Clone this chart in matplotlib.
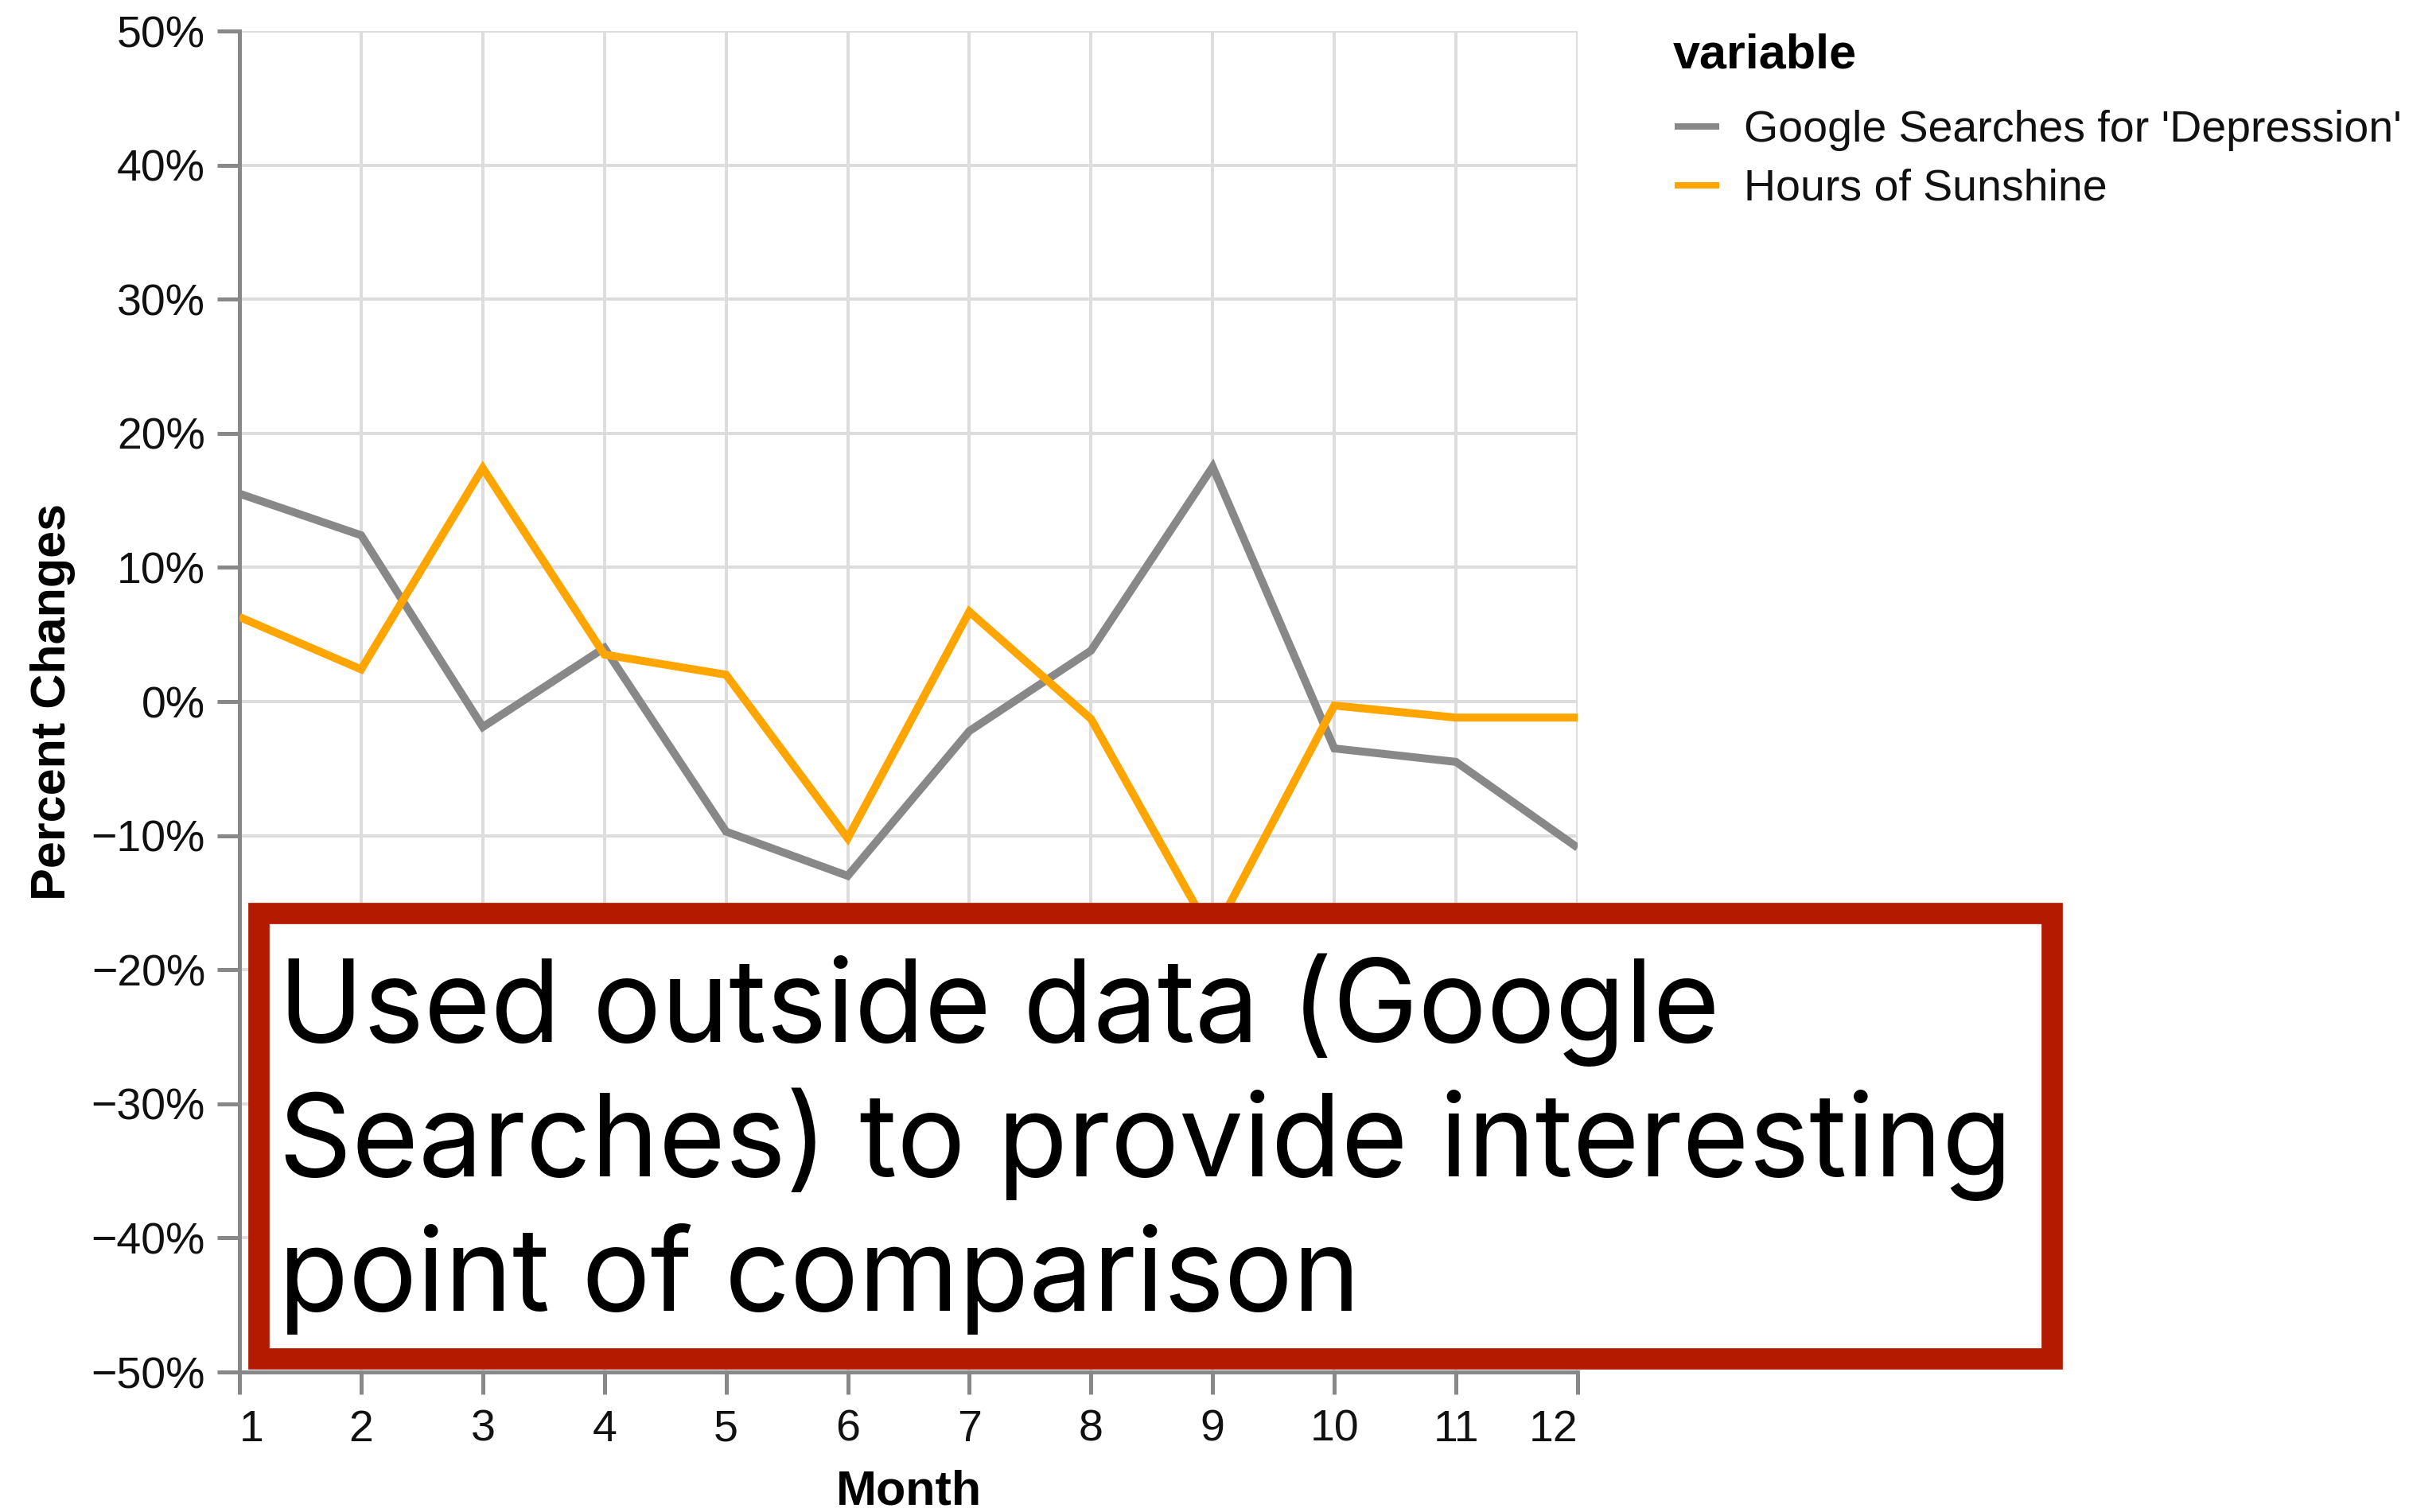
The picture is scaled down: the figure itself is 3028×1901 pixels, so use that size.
import matplotlib
matplotlib.use("Agg")
import matplotlib.pyplot as plt
from matplotlib.patches import Rectangle
from matplotlib.lines import Line2D

# ---- data ----
months = [1, 2, 3, 4, 5, 6, 7, 8, 9, 10, 11, 12]
google_searches = [15.5, 12.4, -1.9, 4.0, -9.7, -13.0, -2.2, 3.8, 17.5, -3.5, -4.5, -10.9]
hours_sunshine = [6.3, 2.4, 17.4, 3.5, 2.0, -10.2, 6.7, -1.3, -17.5, -0.3, -1.2, -1.2]
series_names = ["Google Searches for 'Depression'", "Hours of Sunshine"]
series_colors = ["#888888", "#FFA500"]
y_ticks = [-50, -40, -30, -20, -10, 0, 10, 20, 30, 40, 50]
y_tick_labels = ["\u221250%", "\u221240%", "\u221230%", "\u221220%", "\u221210%", "0%",
                 "10%", "20%", "30%", "40%", "50%"]
x_tick_labels = [str(m) for m in months]
annotation_lines = ["Used outside data (Google", "Searches) to provide interesting",
                    "point of comparison"]

W, H = 3028, 1901
DPI = 100
PX = 72.0 / DPI  # points per pixel

plt.rcParams['font.family'] = ['Liberation Sans', 'DejaVu Sans']

fig = plt.figure(figsize=(W / DPI, H / DPI), dpi=DPI)
fig.patch.set_facecolor("white")

ax_l, ax_r, ax_t, ax_b = 301, 1983, 39, 1725
ax = fig.add_axes([ax_l / W, 1 - ax_b / H, (ax_r - ax_l) / W, (ax_b - ax_t) / H])

for vals, col in zip([google_searches, hours_sunshine], series_colors):
    ax.plot(months, vals, color=col, lw=10 * PX, solid_joinstyle='miter',
            solid_capstyle='butt', zorder=3)

ax.set_xlim(1, 12)
ax.set_ylim(-50, 50)
ax.set_xticks(months)
ax.set_xticklabels(x_tick_labels)
ax.set_yticks(y_ticks)
ax.set_yticklabels(y_tick_labels)
ax.grid(True, color="#dddddd", lw=4 * PX, zorder=0)
ax.set_axisbelow(True)

for s in ["top", "right"]:
    ax.spines[s].set_visible(False)
for s in ["left", "bottom"]:
    ax.spines[s].set_color("#888888")
    ax.spines[s].set_linewidth(5 * PX)

ax.tick_params(axis='both', length=28 * PX, width=5 * PX, color="#888888",
               labelsize=40, labelcolor="#111111")
ax.tick_params(axis='y', pad=15 * PX)
ax.tick_params(axis='x', pad=19 * PX)

xl = ax.get_xticklabels()
xl[0].set_horizontalalignment('left')
xl[-1].set_horizontalalignment('right')

# axis titles
fig.text(82 / W, 1 - 882 / H, "Percent Changes", rotation=90, rotation_mode='anchor',
         ha='center', va='baseline', fontsize=44, fontweight='bold', color="#000000")
fig.text(1142 / W, 1 - 1891 / H, "Month", ha='center', va='baseline',
         fontsize=44, fontweight='bold', color="#000000")

# legend
fig.text(2103 / W, 1 - 86 / H, "variable", ha='left', va='baseline',
         fontsize=44, fontweight='bold', color="#000000")
row_baselines = [178, 252]
for name, col, bl in zip(series_names, series_colors, row_baselines):
    sy = 1 - (bl - 19) / H
    fig.add_artist(Line2D([2105 / W, 2161 / W], [sy, sy], color=col, lw=8 * PX,
                          transform=fig.transFigure, solid_capstyle='butt'))
    fig.text(2192 / W, 1 - bl / H, name, ha='left', va='baseline', fontsize=40,
             color="#111111")

# annotation box
bx0, bx1, by0, by1 = 324.5, 2579, 1147.5, 1707.5
rect = Rectangle((bx0 / W, 1 - by1 / H), (bx1 - bx0) / W, (by1 - by0) / H,
                 transform=fig.transFigure, facecolor="white", edgecolor="#B41A00",
                 lw=26.7 * PX, joinstyle='miter', zorder=10)
fig.add_artist(rect)

baselines = [1310, 1479, 1648]
for line, bl in zip(annotation_lines, baselines):
    fig.text(350 / W, 1 - bl / H, line, ha='left', va='baseline', fontsize=103.5,
             family=['Inter', 'DejaVu Sans'], color="#000000", zorder=11)

fig.savefig("out.png", dpi=DPI, facecolor="white")
